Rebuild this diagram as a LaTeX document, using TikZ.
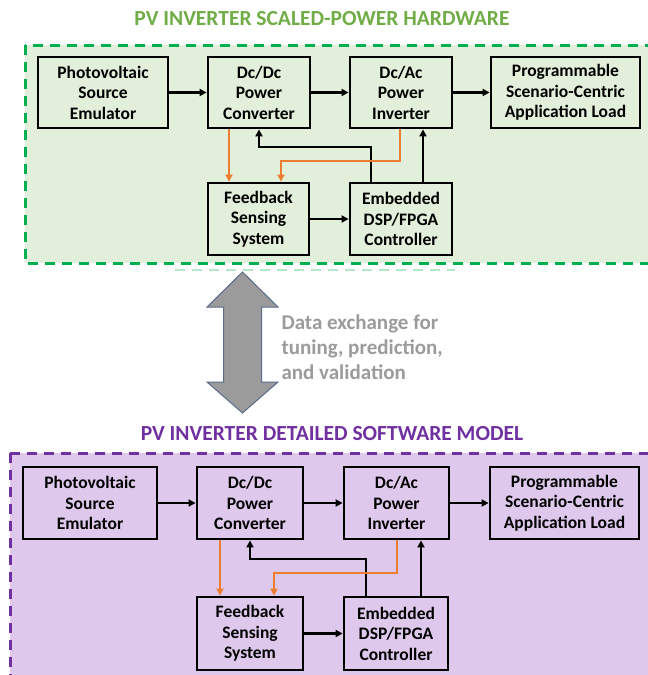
\documentclass[tikz,border=0pt]{standalone}
\usepackage{fontspec}
\setmainfont{Carlito}
\usetikzlibrary{arrows.meta}
\definecolor{gfill}{HTML}{E2EFDA}
\definecolor{gline}{HTML}{00B050}
\definecolor{gtitle}{HTML}{70AD47}
\definecolor{pfill}{HTML}{DEC9EC}
\definecolor{pline}{HTML}{7030A0}
\definecolor{orng}{HTML}{ED7D31}
\definecolor{txtgray}{RGB}{155,155,155}
\definecolor{arrgray}{RGB}{155,155,155}
\definecolor{arredge}{HTML}{5B6B8A}
\begin{document}
\begin{tikzpicture}[x=1pt,y=-1pt,
  blk/.style={draw=black, line width=2.8pt, align=center, inner sep=0pt,
    font=\fontsize{17.5}{20.5}\selectfont\bfseries},
  barr/.style={draw=black, line width=2.6pt, -{Triangle[length=7pt,width=7pt]}},
  oarr/.style={draw=orng, line width=2.6pt, -{Triangle[length=7pt,width=7pt]}},
  gbox/.style={draw=gline, fill=gfill, line width=3pt, dash pattern=on 10pt off 7pt},
  pbox/.style={draw=pline, fill=pfill, line width=3pt, dash pattern=on 10pt off 7pt},
  ttl/.style={font=\fontsize{21.5}{25}\selectfont\bfseries},
]
\useasboundingbox (0,0) rectangle (648,675);
% ---------- hardware section ----------
\draw[gbox] (25,45) rectangle (700,263);
\draw[gline!30, line width=1.5pt, dash pattern=on 10pt off 7pt] (175,270) -- (455,270);
\node[ttl, text=gtitle] (t1) at (322,19) {PV INVERTER SCALED-POWER HARDWARE};

\node[blk, minimum width=130pt, minimum height=71pt] (pv1) at (103,92.5) {Photovoltaic\\Source\\Emulator};
\node[blk, minimum width=102pt, minimum height=71pt] (dd1) at (259,92.5) {Dc/Dc\\Power\\Converter};
\node[blk, minimum width=102pt, minimum height=71pt] (da1) at (401,92.5) {Dc/Ac\\Power\\Inverter};
\node[blk, minimum width=149pt, minimum height=71pt] (pl1) at (565.5,92.5) {Programmable\\Scenario-Centric\\Application Load};
\node[blk, minimum width=101pt, minimum height=72pt] (fb1) at (258.5,219) {Feedback\\Sensing\\System};
\node[blk, minimum width=102pt, minimum height=72pt] (em1) at (401,219) {Embedded\\DSP/FPGA\\Controller};

\draw[barr] (pv1) -- (dd1);
\draw[barr] (dd1) -- (da1);
\draw[barr] (da1) -- (pl1);
\draw[barr] (fb1) -- (em1);
\coordinate (ho1) at (229,0);
\draw[oarr] (dd1.south -| ho1) -- (fb1.north -| ho1);
\coordinate (hb1) at (371,147);
\draw[barr] (em1.north -| hb1) -- (hb1) -| (dd1.south);
\coordinate (ho2) at (400,161);
\coordinate (ho3) at (281,0);
\draw[oarr] (da1.south -| ho2) -- (ho2) -| (fb1.north -| ho3);
\coordinate (hb2) at (423,0);
\draw[barr] (em1.north -| hb2) -- (da1.south -| hb2);

% ---------- exchange arrow ----------
\draw[fill=arrgray, draw=arredge, line width=1pt, line join=miter]
  (242.5,272) -- (278,307) -- (261.5,307) -- (261.5,382) -- (278,382) -- (242.5,413)
  -- (207,382) -- (223.5,382) -- (223.5,307) -- (207,307) -- cycle;
\node[anchor=west, align=left, text=txtgray, font=\fontsize{21}{25}\selectfont\bfseries]
  (dx) at (278,347) {Data exchange for\\tuning, prediction,\\and validation};

% ---------- software section ----------
\draw[pbox] (10,453) rectangle (700,720);
\node[ttl, text=pline] (t2) at (332,434) {PV INVERTER DETAILED SOFTWARE MODEL};

\node[blk, minimum width=134pt, minimum height=72pt] (pv2) at (90,503) {Photovoltaic\\Source\\Emulator};
\node[blk, minimum width=106pt, minimum height=72pt] (dd2) at (250,503) {Dc/Dc\\Power\\Converter};
\node[blk, minimum width=105pt, minimum height=72pt] (da2) at (396.5,503) {Dc/Ac\\Power\\Inverter};
\node[blk, minimum width=149pt, minimum height=72pt] (pl2) at (564.5,503) {Programmable\\Scenario-Centric\\Application Load};
\node[blk, minimum width=106pt, minimum height=73pt] (fb2) at (250,633.5) {Feedback\\Sensing\\System};
\node[blk, minimum width=104pt, minimum height=73pt] (em2) at (396,633.5) {Embedded\\DSP/FPGA\\Controller};

\draw[barr] (pv2) -- (dd2);
\draw[barr] (dd2) -- (da2);
\draw[barr] (da2) -- (pl2);
\draw[barr] (fb2) -- (em2);
\coordinate (lo1) at (220,0);
\draw[oarr] (dd2.south -| lo1) -- (fb2.north -| lo1);
\coordinate (lb1) at (366,559);
\draw[barr] (em2.north -| lb1) -- (lb1) -| (dd2.south);
\coordinate (lo2) at (397,573);
\coordinate (lo3) at (274,0);
\draw[oarr] (da2.south -| lo2) -- (lo2) -| (fb2.north -| lo3);
\coordinate (lb2) at (421,0);
\draw[barr] (em2.north -| lb2) -- (da2.south -| lb2);
\end{tikzpicture}
\end{document}
